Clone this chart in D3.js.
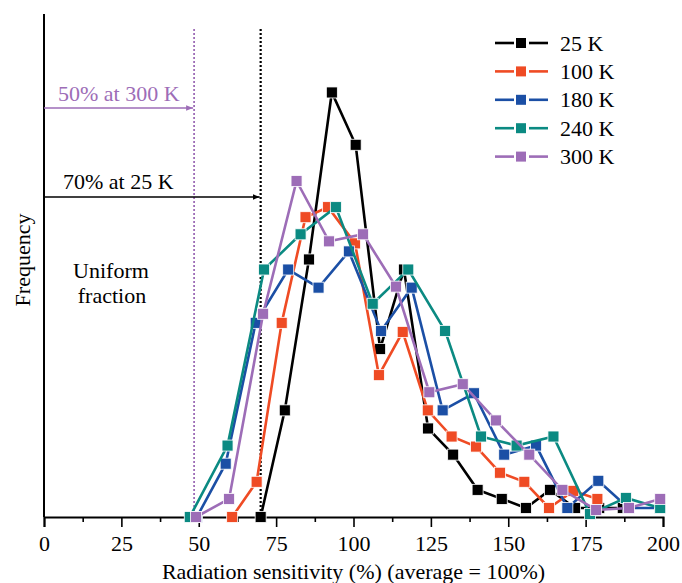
<!DOCTYPE html>
<html>
<head>
<meta charset="utf-8">
<script src="https://cdn.jsdelivr.net/npm/d3@7"></script>
<style>
  body { margin: 0; background: #fff; }
  svg { display: block; font-family: "Liberation Serif", "Times New Roman", serif; }
</style>
</head>
<body>
<div id="chart"></div>
<script>
// Radiation sensitivity histograms, one series per temperature.
const seriesNames = ["25 K", "100 K", "180 K", "240 K", "300 K"];
const seriesColors = ["#000000", "#ef4b24", "#1b4fa5", "#0b8a82", "#9d6db7"];

const x25 = [70, 77.8, 85.6, 93.0, 100.7, 108.6, 116.3, 124.1, 132.2, 140.1, 147.9, 155.7, 163.5, 171.6, 179.4, 187];
const y25 = [0, 5.3, 12.8, 21.1, 18.5, 8.35, 12.3, 4.4, 3.1, 1.35, 0.9, 0.45, 1.35, 0.45, 0.45, 0.45];

const x100 = [60.8, 68.7, 76.8, 84.5, 91.8, 100.5, 108.2, 115.9, 124.0, 131.7, 139.6, 147.3, 155.2, 163.2, 171.0, 178.8];
const y100 = [0, 1.75, 9.65, 14.9, 15.4, 13.6, 7.05, 9.2, 5.3, 4.0, 3.5, 2.2, 1.75, 0.45, 1.3, 0.9];

const x180 = [49.4, 58.7, 68.4, 78.9, 88.7, 98.5, 108.9, 118.8, 128.8, 138.9, 148.7, 159.0, 169.1, 179.1, 188.8, 199.0];
const y180 = [0, 2.65, 9.65, 12.3, 11.4, 13.2, 9.25, 11.4, 5.3, 6.15, 3.1, 3.55, 0.45, 1.8, 0.45, 0.45];

const x240 = [47.1, 59.3, 71.1, 82.9, 94.3, 106.2, 117.7, 129.6, 141.2, 152.7, 164.6, 176.4, 188.0, 199.1];
const y240 = [0, 3.55, 12.3, 14.05, 15.4, 10.6, 12.3, 9.25, 4.0, 3.55, 4.0, 0.15, 0.95, 0.45];

const x300 = [49.1, 59.8, 70.8, 81.6, 92.1, 103.1, 113.7, 124.5, 135.3, 146.0, 156.8, 167.5, 178.4, 189.0, 199.1];
const y300 = [0, 0.9, 10.1, 16.7, 13.7, 14.05, 11.45, 6.2, 6.6, 4.8, 3.1, 1.35, 0.35, 0.45, 0.9];

const majorTicks = [0, 25, 50, 75, 100, 125, 150, 175, 200];
const minorTicks = [12.5, 37.5, 62.5, 87.5, 112.5, 137.5, 162.5, 187.5];

// threshold markers: value on the x axis, label, colour
const thresholdValues = [48.5, 70];
const thresholdLabels = ["50% at 300 K", "70% at 25 K"];
const thresholdColors = ["#9d6db7", "#000000"];

const xs = [x25, x100, x180, x240, x300];
const ys = [y25, y100, y180, y240, y300];
const series = seriesNames.map((name, i) => ({
    name,
    color: seriesColors[i],
    points: xs[i].map((v, j) => ({x: v, y: ys[i][j]}))
}));

const width = 682, height = 583;
const margin = {top: 14, right: 19, bottom: 66, left: 44};

const x = d3.scaleLinear().domain([0, 200]).range([margin.left, width - margin.right]);
const y = d3.scaleLinear().domain([0, 25]).range([height - margin.bottom, margin.top]);

const svg = d3.select("#chart").append("svg")
    .attr("width", width)
    .attr("height", height);

const defs = svg.append("defs");
thresholdColors.forEach((c, i) => {
    defs.append("marker")
        .attr("id", "arrow" + i)
        .attr("viewBox", "0 0 10 10")
        .attr("refX", 10).attr("refY", 5)
        .attr("markerWidth", 7).attr("markerHeight", 7)
        .attr("markerUnits", "userSpaceOnUse")
        .attr("orient", "auto")
        .append("path")
        .attr("d", "M0,1 L10,5 L0,9 Z")
        .attr("fill", c);
});

// x axis
const gx = svg.append("g")
    .attr("transform", `translate(0,${y(0)})`);
gx.call(d3.axisBottom(x).tickValues(majorTicks).tickSize(10).tickPadding(8).tickFormat(d3.format("d")));
gx.call(g => g.select(".domain").attr("stroke-width", 2));
gx.selectAll(".tick line").attr("stroke-width", 1.6);
gx.selectAll(".tick text")
    .attr("font-size", 22)
    .attr("font-family", "Liberation Serif, Times New Roman, serif");

svg.append("g")
    .attr("transform", `translate(0,${y(0)})`)
    .call(d3.axisBottom(x).tickValues(minorTicks).tickSize(5).tickFormat(""))
    .call(g => g.select(".domain").remove())
    .selectAll(".tick line").attr("stroke-width", 1.6);

// y axis line only
svg.append("line")
    .attr("x1", x(0)).attr("x2", x(0))
    .attr("y1", y(25)).attr("y2", y(0))
    .attr("stroke", "#000").attr("stroke-width", 2);

svg.append("text")
    .attr("x", (x(0) + x(200)) / 2)
    .attr("y", 579)
    .attr("text-anchor", "middle")
    .attr("font-size", 22)
    .text("Radiation sensitivity (%) (average = 100%)");

svg.append("text")
    .attr("transform", `translate(30,${260}) rotate(-90)`)
    .attr("text-anchor", "middle")
    .attr("font-size", 22)
    .text("Frequency");

// threshold lines + arrows
const arrowY = [108, 197];
const labelY = [101, 189];
thresholdValues.forEach((v, i) => {
    svg.append("line")
        .attr("x1", x(v)).attr("x2", x(v))
        .attr("y1", 29).attr("y2", y(0))
        .attr("stroke", thresholdColors[i])
        .attr("stroke-width", i === 0 ? 1.8 : 2.2)
        .attr("stroke-dasharray", "2,2");
    svg.append("line")
        .attr("x1", x(0)).attr("x2", x(v) - 1)
        .attr("y1", arrowY[i]).attr("y2", arrowY[i])
        .attr("stroke", thresholdColors[i])
        .attr("stroke-width", 1.3)
        .attr("marker-end", `url(#arrow${i})`);
    svg.append("text")
        .attr("x", i === 0 ? 58 : 63)
        .attr("y", labelY[i])
        .attr("font-size", 22)
        .attr("fill", thresholdColors[i])
        .text(thresholdLabels[i]);
});

svg.append("text")
    .attr("x", 111).attr("y", 278)
    .attr("text-anchor", "middle")
    .attr("font-size", 22)
    .text("Uniform");
svg.append("text")
    .attr("x", 112).attr("y", 303)
    .attr("text-anchor", "middle")
    .attr("font-size", 22)
    .text("fraction");

// series
const line = d3.line().x(d => x(d.x)).y(d => y(d.y));
const markerSize = 11;

const gs = svg.append("g").selectAll("g")
    .data(series)
    .join("g");

gs.append("path")
    .attr("d", d => line(d.points))
    .attr("fill", "none")
    .attr("stroke", d => d.color)
    .attr("stroke-width", 2.6);

gs.selectAll("rect")
    .data(d => d.points.map(p => ({...p, color: d.color})))
    .join("rect")
    .attr("x", d => x(d.x) - markerSize / 2)
    .attr("y", d => y(d.y) - markerSize / 2)
    .attr("width", markerSize)
    .attr("height", markerSize)
    .attr("fill", d => d.color)
    .attr("stroke", "#fff")
    .attr("stroke-width", 0.8);

// legend
const legend = svg.append("g").attr("transform", "translate(495,43)");
const rowH = 28.4;
series.forEach((s, i) => {
    const g = legend.append("g").attr("transform", `translate(0,${i * rowH})`);
    g.append("line").attr("x1", 0).attr("x2", 19).attr("y1", 0).attr("y2", 0)
        .attr("stroke", s.color).attr("stroke-width", 2.6);
    g.append("line").attr("x1", 34).attr("x2", 53).attr("y1", 0).attr("y2", 0)
        .attr("stroke", s.color).attr("stroke-width", 2.6);
    g.append("rect").attr("x", 21).attr("y", -5).attr("width", 10).attr("height", 10)
        .attr("fill", s.color);
    g.append("text")
        .attr("x", 65).attr("y", 7.5)
        .attr("font-size", 22)
        .text(s.name);
});
</script>
</body>
</html>
